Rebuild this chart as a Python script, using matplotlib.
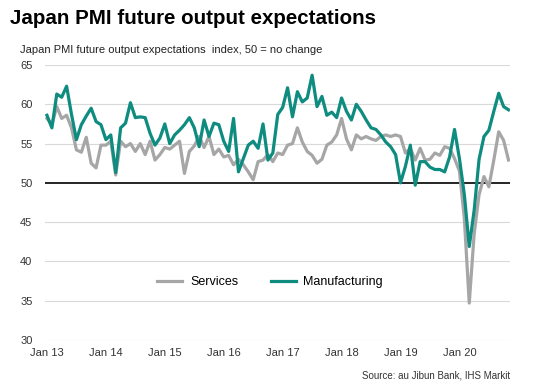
import matplotlib
matplotlib.use("Agg")
import matplotlib.pyplot as plt
import numpy as np

plt.rcParams['font.family'] = ['Liberation Sans', 'DejaVu Sans']

# Monthly index values, Jan 2013 - Nov 2020
services = [58.2, 57.4, 59.7, 58.2, 58.6, 57.0, 54.2, 53.9, 55.8, 52.5, 51.9, 54.8,
            54.8, 55.3, 51.0, 55.3, 54.6, 55.0, 54.0, 55.0, 53.6, 55.3, 52.9, 53.6,
            54.5, 54.3, 54.8, 55.3, 51.2, 54.0, 54.7, 55.9, 54.5, 55.9, 53.6, 54.3,
            53.3, 53.5, 52.3, 53.0, 52.3, 51.4, 50.4, 52.7, 52.9, 53.6, 52.7, 53.8,
            53.6, 54.8, 55.0, 57.0, 55.2, 54.0, 53.5, 52.5, 53.0, 54.8, 55.2, 56.1,
            58.2, 55.6, 54.2, 56.1, 55.6, 55.9, 55.6, 55.4, 55.9, 56.1, 55.9, 56.1,
            55.9, 53.8, 54.4, 52.9, 54.4, 52.9, 53.0, 53.8, 53.5, 54.6, 54.4, 53.1,
            51.5, 45.5, 34.7, 43.5, 48.5, 50.8, 49.5, 52.9, 56.5, 55.4, 52.9]

manufacturing = [58.6, 57.0, 61.3, 60.9, 62.3, 58.7, 55.5, 57.4, 58.5, 59.5, 57.8, 57.4,
                 55.5, 56.1, 51.3, 57.0, 57.6, 60.2, 58.3, 58.4, 58.3, 56.3, 54.8, 55.7,
                 57.5, 55.0, 56.1, 56.7, 57.4, 58.3, 57.0, 54.6, 58.0, 55.9, 57.6, 57.4,
                 55.3, 54.0, 58.2, 51.4, 53.1, 54.8, 55.3, 54.4, 57.5, 52.9, 53.8, 58.7,
                 59.6, 62.1, 58.4, 61.6, 60.3, 60.8, 63.7, 59.7, 61.0, 58.6, 59.0, 58.3,
                 60.8, 59.1, 58.0, 60.0, 59.1, 58.0, 57.0, 56.8, 56.1, 55.2, 54.6, 53.6,
                 50.0, 52.1, 54.8, 49.7, 52.7, 52.7, 52.0, 51.7, 51.7, 51.4, 53.3, 56.8,
                 53.1, 48.5, 41.9, 46.5, 53.0, 55.9, 56.7, 59.1, 61.4, 59.7, 59.3]

tick_labels = ["Jan 13", "Jan 14", "Jan 15", "Jan 16", "Jan 17", "Jan 18", "Jan 19", "Jan 20"]
y_ticks = [30, 35, 40, 45, 50, 55, 60, 65]

x = np.arange(len(services))

fig = plt.figure(figsize=(5.36, 3.88), dpi=100)
ax = fig.add_axes([45/536, 1-340/388, (510-45)/536, (340-65)/388])

for y in y_ticks:
    if y != 50:
        ax.axhline(y, color='#D9D9D9', lw=0.8, zorder=1)
ax.axhline(50, color='black', lw=1.2, zorder=2)

ax.plot(x, services, color='#A6A6A6', lw=2.3, label='Services', zorder=3)
ax.plot(x, manufacturing, color='#0E8C7F', lw=2.3, label='Manufacturing', zorder=4)

ax.set_ylim(30, 65)
ax.set_xlim(-0.4, 94.3)
ax.set_yticks(y_ticks)
ax.set_xticks(np.arange(0, 12*len(tick_labels), 12))
ax.set_xticklabels(tick_labels)
ax.tick_params(axis='both', length=0, labelsize=8, colors='#333333', pad=6)
ax.tick_params(axis='y', pad=9)
for s in ax.spines.values():
    s.set_visible(False)

leg = ax.legend(loc='center', bbox_to_anchor=(0.484, 0.211), ncol=2, frameon=False,
                fontsize=9, handlelength=2.0, columnspacing=2.6, handletextpad=0.6)

fig.text(10/536, 1-18/388, "Japan PMI future output expectations", fontsize=14.8,
         fontweight='bold', va='center', ha='left', color='black')
fig.text(20/536, 1-50/388, "Japan PMI future output expectations  index, 50 = no change",
         fontsize=8, va='center', ha='left', color='#222222')
fig.text(510/536, 1-375/388, "Source: au Jibun Bank, IHS Markit", fontsize=7,
         va='center', ha='right', color='#333333')

fig.savefig("out.png", dpi=100)
